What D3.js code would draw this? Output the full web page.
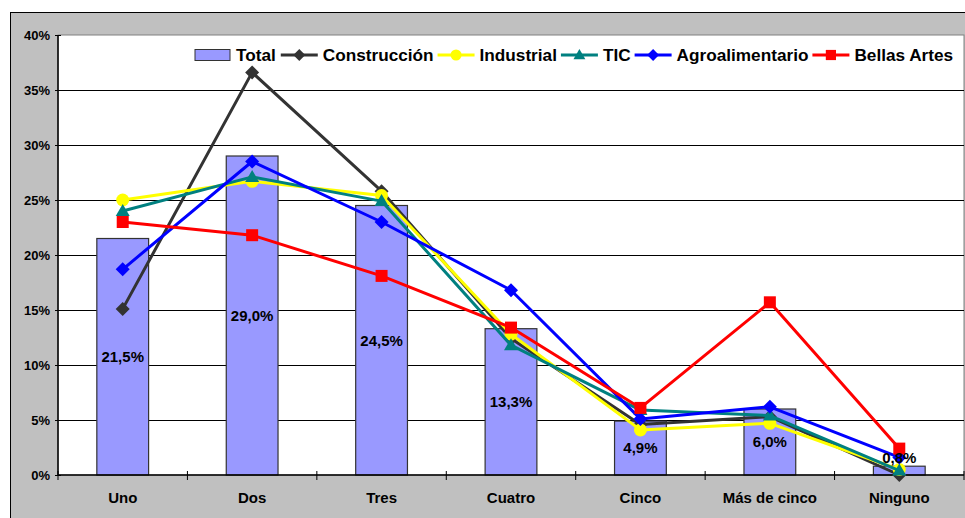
<!DOCTYPE html>
<html><head><meta charset="utf-8">
<script src="https://cdn.jsdelivr.net/npm/d3@7/dist/d3.min.js"></script>
<style>body{margin:0;background:#fff}svg{display:block}text{font-family:Arial,"Liberation Sans",sans-serif;font-weight:bold;fill:#000}</style>
</head><body>
<svg id="c" width="965" height="518"></svg>
<script>
const categories = ["Uno","Dos","Tres","Cuatro","Cinco","Más de cinco","Ninguno"];
const total = [21.5, 29.0, 24.5, 13.3, 4.9, 6.0, 0.8];
const totalLabels = ["21,5%","29,0%","24,5%","13,3%","4,9%","6,0%","0,8%"];
const construccion = [15.1, 36.6, 25.8, 12.4, 4.6, 5.3, 0.0];
const industrial = [25.0, 26.7, 25.4, 12.8, 4.1, 4.7, 0.5];
const tic = [24.0, 27.1, 24.9, 11.8, 5.9, 5.4, 0.4];
const agro = [18.7, 28.5, 23.0, 16.8, 5.1, 6.2, 1.6];
const bellas = [23.0, 21.8, 18.1, 13.4, 6.1, 15.7, 2.4];
const yTicks = [0,5,10,15,20,25,30,35,40];

const series = [
  {name:"Construcción", values:construccion, color:"#333333", marker:"diamond"},
  {name:"Industrial", values:industrial, color:"#ffff00", marker:"circle"},
  {name:"TIC", values:tic, color:"#008080", marker:"triangle"},
  {name:"Agroalimentario", values:agro, color:"#0000ff", marker:"diamond"},
  {name:"Bellas Artes", values:bellas, color:"#ff0000", marker:"square"}
];

const svg = d3.select("#c");
const L = 58, R = 964, T = 35, B = 475;

svg.append("rect").attr("x",10.5).attr("y",12.5).attr("width",970).attr("height",520)
  .attr("fill","#c0c0c0").attr("stroke","#000").attr("stroke-width",1);
svg.append("rect").attr("x",L).attr("y",T).attr("width",R-L).attr("height",B-T)
  .attr("fill","#fff").attr("stroke","#808080").attr("stroke-width",1);

const x = d3.scaleBand().domain(categories).range([L,R]).paddingInner(0).paddingOuter(0);
const y = d3.scaleLinear().domain([0,40]).range([B,T]);

svg.append("g").selectAll("line").data(yTicks.filter(d=>d>0&&d<40)).join("line")
  .attr("x1",L).attr("x2",R).attr("y1",d=>Math.round(y(d))+0.5).attr("y2",d=>Math.round(y(d))+0.5)
  .attr("stroke","#000").attr("stroke-width",1);

const yAxis = d3.axisLeft(y).tickValues(yTicks).tickFormat(d=>d+"%").tickSize(0).tickPadding(8);
const gy = svg.append("g").attr("transform",`translate(${L},0)`).call(yAxis);
gy.select(".domain").remove();
gy.selectAll("text").attr("font-size",13).attr("font-family","Arial, 'Liberation Sans', sans-serif").attr("font-weight","bold").attr("fill","#000");
gy.selectAll(".tick").append("line").attr("x1",-3).attr("x2",3).attr("stroke","#000");

const bw = x.bandwidth()/2.5;
svg.append("g").selectAll("rect").data(total).join("rect")
  .attr("x",(d,i)=>x(categories[i])+x.bandwidth()/2-bw/2)
  .attr("y",d=>y(d)).attr("width",bw).attr("height",d=>B-y(d))
  .attr("fill","#9999ff").attr("stroke","#333").attr("stroke-width",1.2);

svg.append("line").attr("x1",L).attr("x2",L).attr("y1",T).attr("y2",B).attr("stroke","#000").attr("stroke-width",1.5);
svg.append("line").attr("x1",L).attr("x2",R).attr("y1",B).attr("y2",B).attr("stroke","#000").attr("stroke-width",1.5);
const bounds = categories.map(c=>x(c)).concat([R]);
svg.append("g").selectAll("line").data(bounds).join("line")
  .attr("x1",d=>d).attr("x2",d=>d).attr("y1",B-4).attr("y2",B+5).attr("stroke","#000").attr("stroke-width",1);
const xAxis = d3.axisBottom(x).tickSize(0).tickPadding(0);
const gx = svg.append("g").attr("transform",`translate(0,${B})`).call(xAxis);
gx.select(".domain").remove();
gx.selectAll("text").attr("dy",null).attr("y",28).attr("font-size",15)
  .attr("font-family","Arial, 'Liberation Sans', sans-serif").attr("font-weight","bold").attr("fill","#000");

function markerPath(type){
  if(type==="diamond") return "M0,-7L7,0L0,7L-7,0Z";
  if(type==="square") return "M-6,-6H6V6H-6Z";
  if(type==="triangle") return "M0,-7L7,5L-7,5Z";
  return d3.arc()({innerRadius:0,outerRadius:6.5,startAngle:0,endAngle:2*Math.PI});
}

const cx = i => x(categories[i]) + x.bandwidth()/2;
const line = d3.line().x((d,i)=>cx(i)).y(d=>y(d));
series.forEach(s=>{
  const g = svg.append("g");
  g.append("path").attr("d",line(s.values)).attr("fill","none").attr("stroke",s.color).attr("stroke-width",3).attr("stroke-linejoin","round");
  g.selectAll("path.m").data(s.values).join("path").attr("class","m")
    .attr("d",markerPath(s.marker)).attr("transform",(d,i)=>`translate(${cx(i)},${y(d)})`)
    .attr("fill",s.color);
});

svg.append("g").selectAll("text").data(total).join("text")
  .attr("x",(d,i)=>cx(i))
  .attr("y",d=>Math.min((y(d)+B)/2, B-17))
  .attr("dy","0.36em").attr("text-anchor","middle").attr("font-size",15)
  .text((d,i)=>totalLabels[i]);

const lg = svg.append("g");
let lx = 195; const ly = 55;
lg.append("rect").attr("x",lx).attr("y",ly-5.5).attr("width",35).attr("height",11).attr("fill","#9999ff").attr("stroke","#333").attr("stroke-width",1);
let t = lg.append("text").attr("x",lx+41).attr("y",ly+6).attr("font-size",17.2).text("Total");
lx = lx + 41 + t.node().getComputedTextLength() + 5;
series.forEach(s=>{
  lg.append("line").attr("x1",lx).attr("x2",lx+37).attr("y1",ly).attr("y2",ly).attr("stroke",s.color).attr("stroke-width",3);
  lg.append("path").attr("d",markerPath(s.marker)).attr("transform",`translate(${lx+18.5},${ly}) scale(0.85)`).attr("fill",s.color);
  const tt = lg.append("text").attr("x",lx+42).attr("y",ly+6).attr("font-size",17.2).text(s.name);
  lx = lx + 42 + tt.node().getComputedTextLength() + 4;
});
</script>
</body></html>
